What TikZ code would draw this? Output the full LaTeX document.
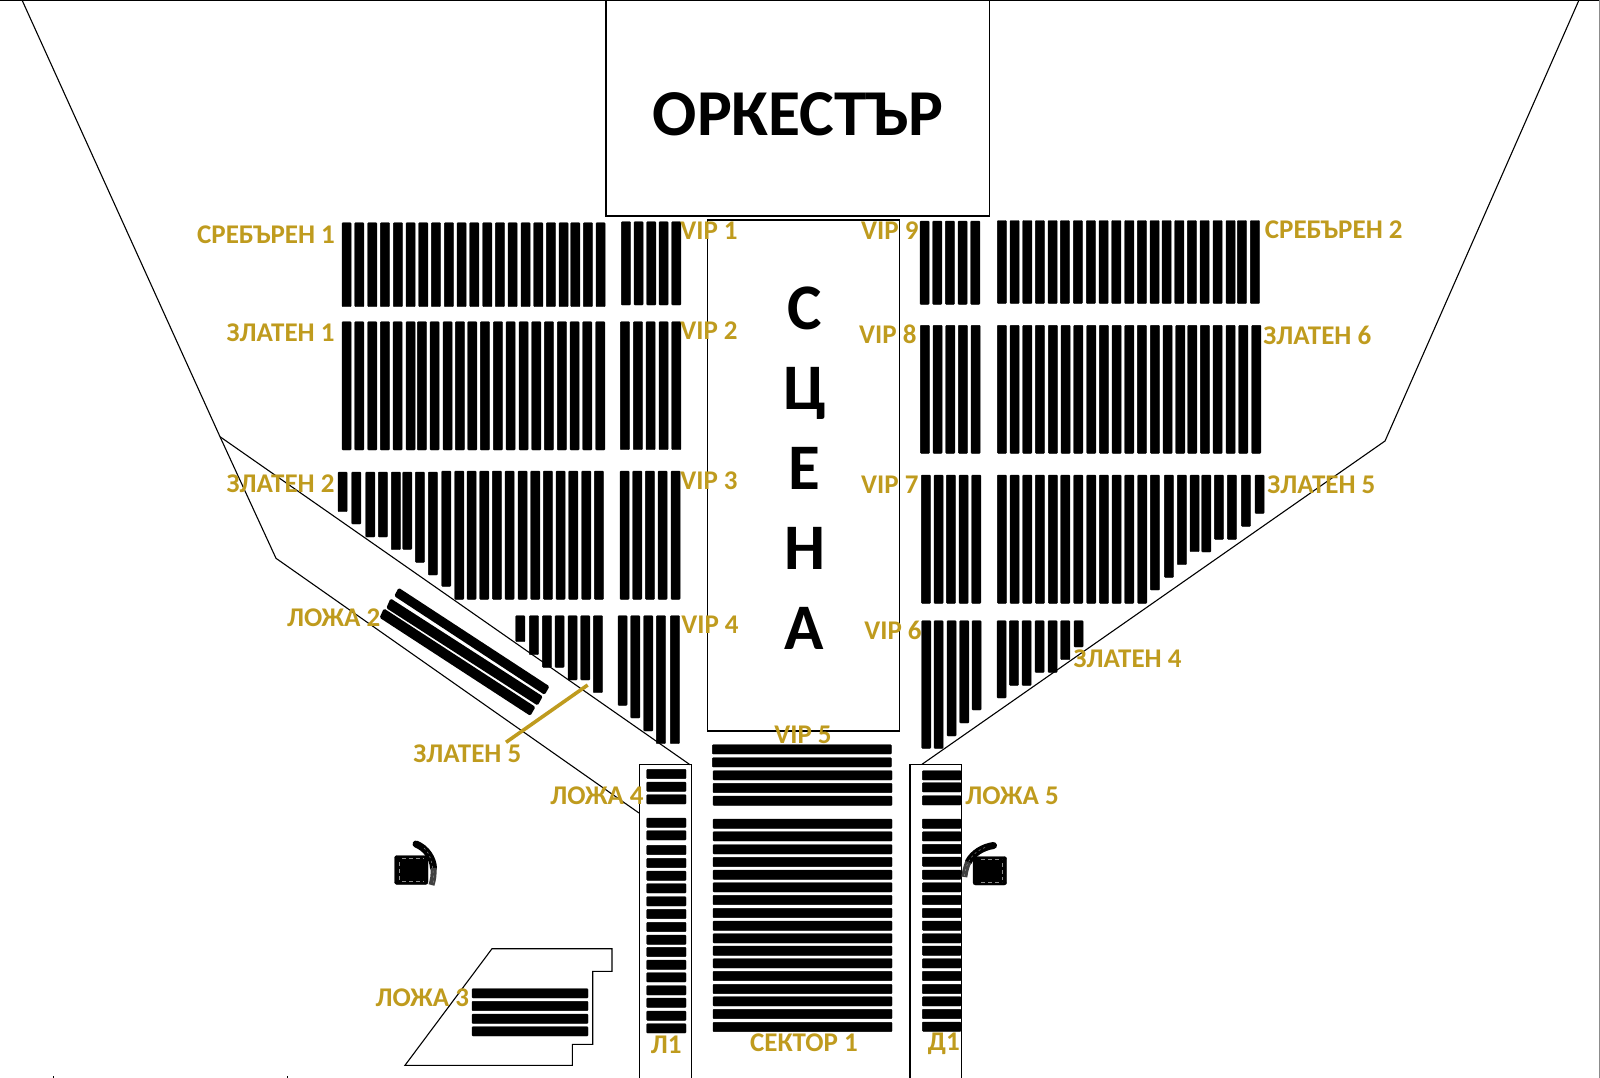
\documentclass[tikz,border=0pt]{standalone}
\usepackage{fontspec}
\setmainfont{Carlito}
\definecolor{labelgold}{HTML}{BF9B1E}

\tikzset{
  seat/.style={fill=black, draw=black, line width=0.4pt, rounded corners=0.8pt},
  wall/.style={draw=black, line width=1.1pt, line join=miter},
  lbl/.style={font=\bfseries\fontsize{27}{27}\selectfont, text=labelgold, inner sep=0pt, yshift=-1pt},
  bigtxt/.style={font=\bfseries\fontsize{65.5}{65.5}\selectfont, text=black, inner sep=0pt},
  glint/.style={draw=black!45, line width=0.5pt, dash pattern=on 4pt off 3pt}
}

% (top, x/bottom list)
\def\vrow#1#2{\foreach \xx/\yy in {#2}{\fill[seat] (\xx,#1) rectangle (\xx+9.2,\yy);}}
% (top, bottom, x list)
\def\vflat#1#2#3{\foreach \xx in {#3}{\fill[seat] (\xx,#1) rectangle (\xx+9.2,#2);}}
% (left, right, y list)
\def\hflat#1#2#3{\foreach \yy in {#3}{\fill[seat] (#1,\yy) rectangle (#2,\yy+9.3);}}

\begin{document}
\begin{tikzpicture}[x=1pt, y=-1pt]
  \useasboundingbox (0,0) rectangle (1600,1078);

  %----- walls -----
  \draw[wall] (0,0.6) -- (1600,0.6);
  \draw[draw=black!45, line width=1pt] (1599.5,0) -- (1599.5,1078);
  \draw[wall] (22,0) -- (220,436.7) -- (276,558.3) -- (639,813);
  \draw[wall] (220,436.7) -- (690,764.7);
  \draw[wall] (1579,0) -- (1385,441) -- (922,764.3);
  \draw[wall] (606,0) rectangle (989.3,216);
  \draw[wall] (707.6,220) -- (707.6,731) -- (899.5,731) -- (899.5,220) -- cycle;
  \draw[wall] (639.3,1078) -- (639.3,764.7) -- (691.3,764.7) -- (691.3,1078);
  \draw[wall] (910,1078) -- (910,764.3) -- (961.7,764.3) -- (961.7,1078);
  \draw[wall] (492,948.7) -- (612,948.7) -- (612,971.3) -- (592.7,971.3) -- (592.7,1044.3)
    -- (572.3,1044.3) -- (572.3,1065.3) -- (405,1065.3) -- cycle;
  \draw[wall, line width=0.8pt] (53,1078) -- (53,1076) (287,1078) -- (287,1076);

  %----- left block -----
  \vflat{222.7}{306.7}{342,354.7,367.7,380.3,393.3,406,418.7,431.3,444.3,457,469.7,482.7,495.3,508,521,533.7,546.3,559,570.7,583.3,596}
  \vflat{221.7}{305}{621.3,634,646.7,659,671.7}
  \vflat{321.7}{450}{342,354.7,367.7,380.3,393,406,417.3,430,443,455.3,467.7,480.3,493.3,506,519,531.7,544.3,557.3,570,582.7,595.7}
  \vflat{321.7}{449.7}{620.3,633.3,646,659,671.7}
  \vrow{472}{338/511.7,351.7/524,365.7/537,378.3/537,391.3/549.7,402.7/549.3,415.3/562.3,428.3/575}
  \vrow{471}{441.7/586.3,454.7/599.3,467/599.3,479.7/599.3,492.3/599.3,505/599.3,518/599.3,530.7/599.3,543.3/599.3,556/599.3,568.7/599.3,581.7/599.3,594.3/599.3}
  \vflat{471}{599.3}{620,632.7,645.3,658,671}
  \vrow{615.7}{515.7/641.7,529.3/654.7,542.3/667.3,555/667.3,568/680,580.7/680,593.3/692.7}
  \vrow{615.7}{618/705.3,630.7/718,643.7/731,656.3/743.7,670.3/743.7}

  %----- right block -----
  \vflat{221}{304.3}{920,932.7,945.3,958,970.7}
  \vflat{220.5}{303.5}{997.3,1010,1022.7,1035.3,1048,1060.3,1073.3,1086.3,1099,1111.7,1124.7,1137.3,1150,1162,1174.7,1187.3,1200,1213,1226,1237.3,1250.3}
  \vflat{325.3}{453.3}{920.3,933,945.7,958.3,971}
  \vflat{325.3}{453.3}{997.3,1010,1022.7,1035.3,1048.3,1061,1073.7,1086.7,1099.3,1112,1124.7,1137.3,1150.3,1163,1175.7,1187.7,1200.3,1213,1226,1238.7,1251.7}
  \vflat{475}{603.3}{921.3,934,946.3,959,971.7}
  \vrow{475}{997.3/603.3,1010/603.3,1022.7/603.3,1035.3/603.3,1048.3/603.3,1060.7/603.3,1073.7/603.3,1086.7/603.3,1099.3/603.3,1112/603.3,1124.7/603.3,1137.7/603.3,1150.3/590,1164.3/577.3,1177.3/564.7,1190/551.7,1201.7/552,1214.3/539.3,1227.3/539.3,1241.3/526.3,1255/513.3}
  \vrow{620.7}{921.7/748.3,934/748.3,947/736,959.7/723,972/710}
  \vrow{620.7}{997/698,1009.3/685.3,1022/685.3,1035/672.3,1048/672.3,1060.7/659.7,1074/647}

  %----- front rows -----
  \hflat{712.3}{891.3}{744.7,757.7}
  \hflat{713}{892}{770.7,783.3,796,819,831.7,844.7,857.3,870,882.7,895.3,908.3,921,933.7,946,958.7,971.3,984.3,996.7,1009.3,1022.3}
  \hflat{922.3}{961}{770.7,782.7,795.7,819,831.7,844.3,857,870,882.7,895.3,908.3,921,933.7,946,958.7,971.3,984.3,996.7,1009.3,1022}
  \hflat{646.7}{686}{769.3,782,794.7,818,830.7,845.3,858.3,871,883.7,896.7,909.3,922.3,935,947.3,960,972.7,985.7,998,1011,1023.7}
  \hflat{472}{588}{988.7,1001.3,1014,1026.7}

  %----- slanted rows -----
  \fill[seat, line width=2.2pt] (399,589.3) -- (548,686.7) -- (544.3,693.3) -- (395.7,595.7) -- cycle;
  \fill[seat, line width=2.2pt] (391,600) -- (541.3,696.7) -- (537.3,704) -- (387.7,607.7) -- cycle;
  \fill[seat, line width=2.2pt] (384.3,610) -- (534,707.3) -- (530,714.3) -- (381,617.3) -- cycle;

  %----- speakers -----
  \fill[seat, rounded corners=2.5pt] (394.5,855.5) rectangle (428,884.5);
  \draw[glint] (402,858.5) -- (424,858.5) (402,881.5) -- (424,881.5) (399,862) -- (399,880);
  \draw[black, line width=7pt, line cap=round] (416,844) .. controls (426,848) and (433,858) .. (433.5,868);
  \draw[black!75, line width=6pt] (433.5,868) .. controls (434,875) and (433,880) .. (431.5,885);
  \draw[glint, dash pattern=on 2pt off 3pt] (424,848) .. controls (430,853) and (434,865) .. (433.5,884);
  \fill[seat, rounded corners=2.5pt] (973,856.5) rectangle (1006.7,885);
  \draw[glint] (981,859.5) -- (1002,859.5) (981,882) -- (1002,882) (1002.5,863) -- (1002.5,880);
  \draw[black, line width=7pt, line cap=round] (993.5,845.5) .. controls (983,847) and (973,853) .. (968.3,862);
  \draw[black!75, line width=6pt] (968.3,862) .. controls (966,867) and (965,872) .. (964.3,877);
  \draw[glint, dash pattern=on 2pt off 3pt] (985,847.5) .. controls (975,851) and (966,860) .. (964.5,876);

  %----- gold marker -----
  \draw[labelgold, line width=3.6pt] (506,742.3) -- (587.7,685);

  %----- titles -----
  \node[bigtxt] (orchestra) at (798,114.3) {ОРКЕСТЪР};
  \node[bigtxt, align=center, font=\bfseries\fontsize{65}{80}\selectfont] (stage) at (804.5,468) {С\\Ц\\Е\\Н\\А};

  %----- labels -----
  \node[lbl] (silver1) at (266,233.7) {СРЕБЪРЕН 1};
  \node[lbl] (silver2) at (1333.7,228.6) {СРЕБЪРЕН 2};
  \node[lbl] (gold1) at (280.6,331.6) {ЗЛАТЕН 1};
  \node[lbl] (gold2) at (280.6,482.7) {ЗЛАТЕН 2};
  \node[lbl] (gold4) at (1127.6,658.2) {ЗЛАТЕН 4};
  \node[lbl] (gold5r) at (1321.4,483.7) {ЗЛАТЕН 5};
  \node[lbl] (gold5l) at (467.3,753) {ЗЛАТЕН 5};
  \node[lbl] (gold6) at (1317.3,334.7) {ЗЛАТЕН 6};
  \node[lbl] (box2) at (333.7,616.3) {ЛОЖА 2};
  \node[lbl] (box3) at (422.4,997) {ЛОЖА 3};
  \node[lbl] (box4) at (597,794.9) {ЛОЖА 4};
  \node[lbl] (box5) at (1012,794.9) {ЛОЖА 5};
  \node[lbl] (left1) at (666.3,1043.9) {Л1};
  \node[lbl] (right1) at (943.9,1042.8) {Д1};
  \node[lbl] (sector1) at (804,1041.8) {СЕКТОР 1};
  \node[lbl] (vip1) at (709,229.6) {VIP 1};
  \node[lbl] (vip2) at (709,329.6) {VIP 2};
  \node[lbl] (vip3) at (709,479.6) {VIP 3};
  \node[lbl] (vip4) at (710,623.5) {VIP 4};
  \node[lbl] (vip5) at (803,733.7) {VIP 5};
  \node[lbl] (vip6) at (893,629.6) {VIP 6};
  \node[lbl] (vip7) at (889.8,483.7) {VIP 7};
  \node[lbl] (vip8) at (887.8,333.7) {VIP 8};
  \node[lbl] (vip9) at (889.8,229.6) {VIP 9};
\end{tikzpicture}
\end{document}
